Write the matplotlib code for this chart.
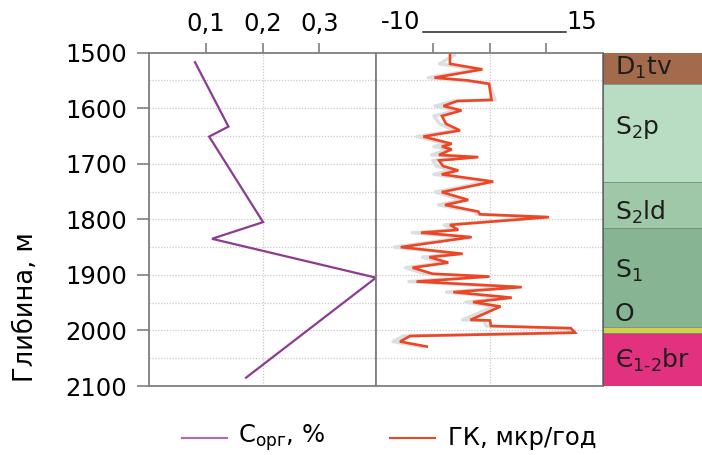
import matplotlib
matplotlib.use("Agg")
import matplotlib.pyplot as plt
from matplotlib.lines import Line2D

plt.rcParams['font.family'] = ['DejaVu Sans']
plt.rcParams['mathtext.fontset'] = 'dejavusans'

# Organic carbon content, %
corg_depth = [1517, 1633, 1651, 1805, 1835, 1905, 2085]
corg_value = [0.081, 0.140, 0.106, 0.201, 0.111, 0.400, 0.171]

# Gamma log (red) and the raw gamma trace behind it (grey)
gk_depth = [1504, 1520, 1530, 1545, 1550, 1556, 1585, 1587, 1596, 1604,
            1614, 1628, 1640, 1651, 1664, 1669, 1674, 1684, 1688, 1694,
            1704, 1712, 1719, 1732, 1751, 1765, 1774, 1786, 1791, 1796,
            1810, 1819, 1824, 1832, 1850, 1862, 1868, 1878, 1887, 1898,
            1903, 1912, 1922, 1931, 1941, 1949, 1957, 1981, 1982, 1992,
            1996, 2004, 2010, 2020, 2029]
gk_value = [6.52, 6.52, 9.38, 5.15, 8.11, 9.96, 10.18, 7.14, 5.95, 7.53,
            5.81, 6.17, 7.40, 4.17, 6.67, 5.81, 6.67, 5.55, 9.01, 5.55,
            5.90, 7.25, 5.79, 10.33, 5.79, 8.13, 6.08, 9.01, 9.16, 15.24,
            6.52, 7.25, 3.96, 8.43, 2.18, 7.64, 4.70, 6.37, 3.22, 4.98,
            10.00, 3.57, 12.84, 6.81, 11.96, 8.55, 10.97, 8.31, 10.04, 10.13,
            17.18, 17.53, 3.00, 2.11, 4.47]
raw_value = [6.9, 5.6, 8.9, 4.6, 7.6, 10.0, 10.5, 6.8, 5.2, 7.1,
             5.1, 5.6, 6.9, 3.6, 6.2, 5.1, 6.3, 4.9, 8.4, 5.0,
             5.3, 6.7, 5.1, 9.8, 5.2, 7.6, 5.5, 8.6, 8.9, 14.9,
             6.0, 6.8, 3.2, 7.9, 1.6, 7.2, 4.1, 5.9, 2.6, 4.3,
             9.5, 2.9, 12.3, 6.2, 11.5, 7.9, 10.4, 7.6, 9.5, 9.7,
             16.8, 17.3, 2.4, 1.5, 4.0]

# Stratigraphic column
strat_top = [1500, 1556, 1733, 1815, 1993, 2005]
strat_bottom = [1556, 1733, 1815, 1993, 2005, 2100]
strat_color = ['#a36b4b', '#b9ddc2', '#9fc8a8', '#87b594', '#d1d24c', '#e2317e']
strat_label = [r'$\mathregular{D_{1}tv}$', r'$\mathregular{S_{2}p}$',
               r'$\mathregular{S_{2}ld}$', r'$\mathregular{S_{1}}$', '',
               r'$\mathregular{Є_{1\text{-}2}br}$']
strat_label_depth = [1527, 1635, 1788, 1893, None, 2054]

corg_ticks = [0.1, 0.2, 0.3]
corg_tick_labels = ['0,1', '0,2', '0,3']
gk_ticks = [5, 10, 15]
depth_ticks = [1500, 1600, 1700, 1800, 1900, 2000, 2100]

FS = 17.5
W, H = 702, 455
fig = plt.figure(figsize=(W / 100, H / 100), dpi=100)

def fx(px):
    return px / W

def fy(py):
    return 1 - py / H

top_px, bot_px = 52.7, 386
ax_y = fy(bot_px)
ax_h = fy(top_px) - fy(bot_px)

ax1 = fig.add_axes([fx(149), ax_y, fx(376) - fx(149), ax_h])
ax2 = fig.add_axes([fx(376), ax_y, fx(603) - fx(376), ax_h], sharey=ax1)
ax3 = fig.add_axes([fx(603), ax_y, fx(702) - fx(603), ax_h], sharey=ax1)

grid_kw = dict(color='#cacaca', linestyle=(0, (1.0, 1.3)), linewidth=0.9)
spine_color = '#7f7f7f'

for ax in (ax1, ax2):
    ax.set_ylim(2100, 1500)
    for d in range(1550, 2100, 50):
        ax.axhline(d, zorder=0, **grid_kw)
    for s in ax.spines.values():
        s.set_color(spine_color)
        s.set_linewidth(1.3)
    ax.xaxis.tick_top()
    ax.tick_params(axis='x', direction='out', length=7, width=1.2,
                   color=spine_color, labelsize=FS, pad=5)

ax1.set_xlim(0, 0.4)
ax1.axvline(0.2, zorder=0, **grid_kw)
ax1.set_xticks(corg_ticks)
ax1.set_xticklabels(corg_tick_labels)
ax1.set_yticks(depth_ticks)
ax1.tick_params(axis='y', direction='out', length=9, width=1.2,
                color=spine_color, labelsize=FS, pad=7)
ax1.plot(corg_value, corg_depth, color='#8c3b92', linewidth=1.6,
         solid_joinstyle='miter', clip_on=False, zorder=3)

ax2.set_xlim(0, 20)
ax2.axvline(10, zorder=0, **grid_kw)
ax2.set_xticks(gk_ticks)
ax2.set_xticklabels([])
ax2.tick_params(axis='y', left=False, labelleft=False)
ax2.plot(raw_value, gk_depth, color='#dcdee0', linewidth=2.4, zorder=2)
ax2.plot(gk_value, gk_depth, color='#ee4524', linewidth=1.9,
         solid_joinstyle='miter', zorder=3)

# header of the gamma track
fig.text(fx(401), fy(22), '-10', fontsize=FS, ha='center', va='center')
fig.text(fx(582), fy(22), '15', fontsize=FS, ha='center', va='center')
fig.add_artist(Line2D([fx(423), fx(566)], [fy(32), fy(32)],
                      color='#222222', linewidth=1.1))

# stratigraphic column
ax3.set_xlim(0, 1)
ax3.set_xticks([])
ax3.tick_params(axis='y', left=False, labelleft=False)
for s in ax3.spines.values():
    s.set_visible(False)
for t, b, c, lab, ld in zip(strat_top, strat_bottom, strat_color,
                            strat_label, strat_label_depth):
    ax3.axhspan(b, t, color=c, linewidth=0)
    if t > 1500:
        ax3.axhline(t, color='#7a8a7e', linewidth=0.6)
    if lab:
        ax3.text(0.12, ld, lab, fontsize=18, ha='left', va='center',
                 color='#1e1e1e')
ax3.text(0.12, 1971, 'O', fontsize=18, ha='left', va='center', color='#1e1e1e')
ax3.axvline(0, color='#555555', linewidth=1.2)

fig.text(fx(26), fy(307), 'Глибина, м', fontsize=18.5, rotation=90,
         ha='center', va='center')

# legend
fig.add_artist(Line2D([fx(182), fx(227)], [fy(438), fy(438)],
                      color='#b469b4', linewidth=1.5))
fig.text(fx(238), fy(438), r'$\mathregular{C_{орг}}$, %', fontsize=FS,
         ha='left', va='center')
fig.add_artist(Line2D([fx(390), fx(435)], [fy(438), fy(438)],
                      color='#ee4524', linewidth=1.5))
fig.text(fx(448), fy(438), 'ГК, мкр/год', fontsize=FS, ha='left', va='center')

fig.savefig('out.png', dpi=100)
